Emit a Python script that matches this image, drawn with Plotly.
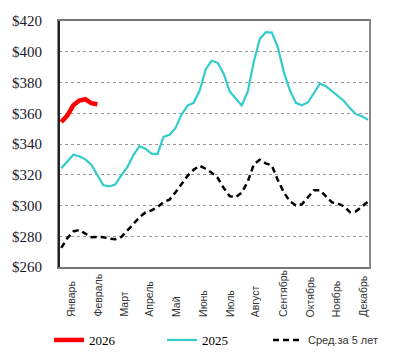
import plotly.graph_objects as go

# Weekly index (0..51)
weeks = list(range(52))

series_2026 = [354.3, 358.5, 365.2, 368.3, 369.1, 366.6, 365.9]

series_2025 = [324.3, 328.6, 333.0, 332.0, 330.0, 326.6, 319.5, 313.1, 312.4, 313.8,
               319.8, 325.0, 332.8, 338.6, 337.0, 333.7, 333.5, 344.6, 346.0, 350.5,
               359.1, 365.0, 366.8, 374.6, 388.5, 394.1, 392.8, 385.7, 374.2, 369.3,
               365.0, 374.0, 393.3, 408.3, 412.7, 412.5, 403.0, 386.7, 375.0, 366.8,
               365.2, 367.0, 373.0, 379.3, 377.6, 374.5, 371.0, 368.0, 363.3, 359.4,
               358.0, 355.7]

series_avg5 = [272.4, 278.7, 283.1, 284.1, 281.7, 279.4, 279.5, 279.4, 278.5, 278.0,
               279.6, 283.5, 288.0, 292.4, 295.5, 296.8, 298.9, 302.2, 303.8, 308.6,
               313.9, 319.3, 323.2, 325.9, 323.9, 321.3, 318.0, 311.4, 306.1, 305.4,
               308.3, 315.5, 326.6, 329.8, 327.4, 326.1, 316.6, 308.6, 302.7, 300.0,
               300.8, 305.6, 309.9, 310.0, 306.3, 302.0, 301.3, 299.5, 295.6, 296.2,
               299.3, 302.6]

month_labels = ["Январь", "Февраль", "Март", "Апрель", "Май", "Июнь", "Июль",
                "Август", "Сентябрь", "Октябрь", "Ноябрь", "Декабрь"]
month_pos = [1.55, 5.95, 10.27, 14.55, 19.0, 23.46, 27.98, 32.26, 36.87, 41.34, 45.63, 50.03]

y_ticks = [260, 280, 300, 320, 340, 360, 380, 400, 420]

SERIF = "Liberation Serif"
SANS = "Liberation Sans"

fig = go.Figure()

fig.add_trace(go.Scatter(
    x=weeks, y=series_avg5, mode="lines", name="Сред.за 5 лет",
    line=dict(color="#000000", width=2.5, dash="6px,4px"), legend="legend3"))
fig.add_trace(go.Scatter(
    x=weeks, y=series_2025, mode="lines", name="2025",
    line=dict(color="#33CCCC", width=2.2), legend="legend2"))
fig.add_trace(go.Scatter(
    x=weeks[:len(series_2026)], y=series_2026, mode="lines", name="2026",
    line=dict(color="#FF0000", width=4.5), legend="legend"))

annotations = []
for lab, pos in zip(month_labels, month_pos):
    annotations.append(dict(
        x=pos, xref="x", y=-0.2114, yref="paper", text=lab, showarrow=False,
        textangle=-90, xanchor="center", yanchor="bottom",
        font=dict(family=SANS, size=10.5, color="#333333")))

legend_common = dict(orientation="h", yref="container", y=0.053, yanchor="middle",
                     xref="container", xanchor="left", bgcolor="rgba(0,0,0,0)",
                     borderwidth=0, traceorder="normal")

fig.update_layout(
    width=395, height=359,
    margin=dict(l=53, r=26, t=21, b=92),
    paper_bgcolor="white", plot_bgcolor="white",
    showlegend=True,
    legend=dict(**legend_common, x=49 / 395,
                font=dict(family=SERIF, size=13, color="#000")),
    legend2=dict(**legend_common, x=162 / 395,
                 font=dict(family=SERIF, size=13, color="#000")),
    legend3=dict(**legend_common, x=268 / 395,
                 font=dict(family=SANS, size=11, color="#333")),
    xaxis=dict(range=[-0.375, 51.16], showticklabels=False, showgrid=False,
               zeroline=False, showline=True, linecolor="#777", linewidth=2,
               mirror=True, ticks=""),
    yaxis=dict(range=[260, 420], tickvals=y_ticks, ticktext=[f"${v}" for v in y_ticks],
               showgrid=True, gridcolor="#999", griddash="dot", gridwidth=1,
               zeroline=False, showline=True, linecolor="#888", linewidth=2, mirror=True,
               ticks="", ticklabelstandoff=12,
               tickfont=dict(family=SERIF, size=15, color="#1a1a2a")),
    annotations=annotations,
    shapes=[dict(type="line", xref="paper", yref="paper", x0=0, x1=0, y0=0, y1=1,
                 line=dict(color="#222", width=2), layer="above")],
)

fig.write_html("out.html", config={"displayModeBar": False},
               post_script="document.body.style.margin='0px';document.body.style.padding='0px';")
